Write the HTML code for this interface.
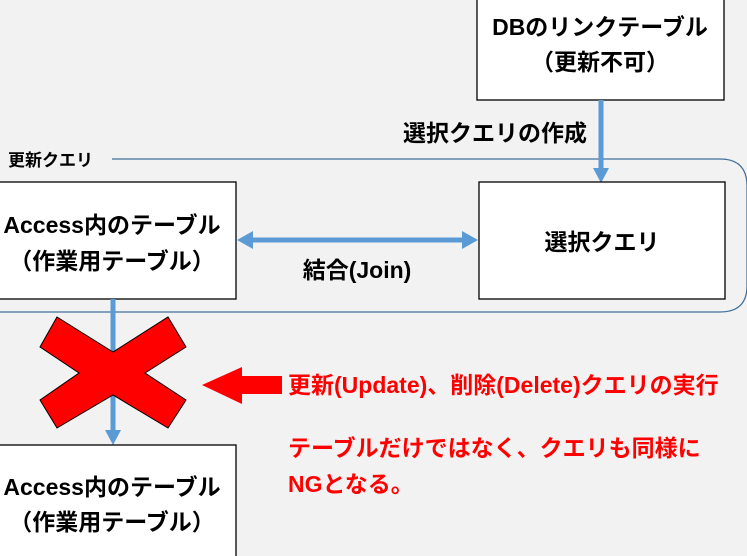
<!DOCTYPE html>
<html><head><meta charset="utf-8"><style>
html,body{margin:0;padding:0;background:#f2f2f2;}
svg{display:block;}
text{font-family:"Liberation Sans","Noto Sans CJK JP",sans-serif;font-weight:bold;}
</style></head><body>
<svg width="747" height="556" viewBox="0 0 747 556" xmlns="http://www.w3.org/2000/svg">
<rect width="747" height="556" fill="#f2f2f2"/>
<path d="M112 159 H720 Q747 159 747 186 V286 Q747 312 720 312 H-5" fill="none" stroke="#41719c" stroke-width="1.3"/>
<text x="8" y="166" font-size="17" fill="#000">更新クエリ</text>
<rect x="477" y="-2" width="247" height="102" fill="#fff" stroke="#000" stroke-width="1.3"/>
<text x="600" y="35" font-size="23" text-anchor="middle">DBのリンクテーブル</text>
<text x="600" y="70" font-size="23" text-anchor="middle">（更新不可）</text>
<text x="495" y="141" font-size="23" text-anchor="middle">選択クエリの作成</text>
<line x1="601" y1="100" x2="601" y2="170" stroke="#5b9bd5" stroke-width="5"/>
<polygon points="593,168 609,168 601,183" fill="#5b9bd5"/>
<rect x="-2" y="182" width="238" height="117" fill="#fff" stroke="#000" stroke-width="1.3"/>
<text x="112" y="233" font-size="23" text-anchor="middle">Access内のテーブル</text>
<text x="112" y="269" font-size="23" text-anchor="middle">（作業用テーブル）</text>
<rect x="479" y="182" width="246" height="117" fill="#fff" stroke="#000" stroke-width="1.3"/>
<text x="602" y="250" font-size="23" text-anchor="middle">選択クエリ</text>
<line x1="250" y1="240" x2="465" y2="240" stroke="#5b9bd5" stroke-width="5"/>
<polygon points="237,240 253,231 253,249" fill="#5b9bd5"/>
<polygon points="478,240 462,231 462,249" fill="#5b9bd5"/>
<text x="357" y="278" font-size="23" text-anchor="middle">結合(Join)</text>
<line x1="113" y1="299" x2="113" y2="433" stroke="#5b9bd5" stroke-width="5"/>
<polygon points="105,430 121,430 113,445" fill="#5b9bd5"/>
<polygon points="57,317 113,352 168,317 186,347 145,373 186,400 168,428 113,395 57,428 40,400 79,373 40,347" fill="#ff0000" stroke="#000" stroke-width="1"/>
<rect x="-2" y="445" width="238" height="115" fill="#fff" stroke="#000" stroke-width="1.3"/>
<text x="112" y="495" font-size="23" text-anchor="middle">Access内のテーブル</text>
<text x="112" y="530" font-size="23" text-anchor="middle">（作業用テーブル）</text>
<polygon points="202,385 242,367 242,376 282,376 282,394 242,394 242,404" fill="#ff0000"/>
<text x="288" y="393" font-size="23" fill="#ff0000">更新(Update)、削除(Delete)クエリの実行</text>
<text x="288" y="456" font-size="23" fill="#ff0000">テーブルだけではなく、クエリも同様に</text>
<text x="288" y="492" font-size="23" fill="#ff0000">NGとなる。</text>
</svg>
</body></html>
